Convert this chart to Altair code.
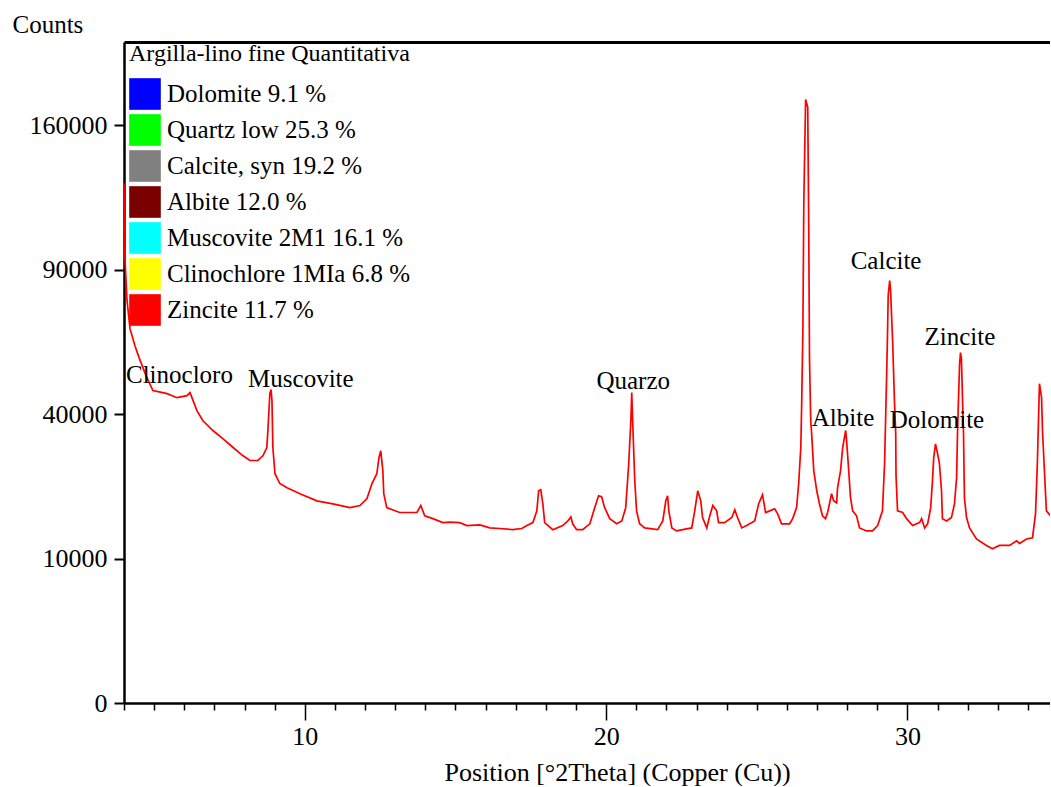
import altair as alt
import pandas as pd

# ---- data ----
two_theta = [4.00, 4.03, 4.10, 4.20, 4.36, 4.50, 4.73, 4.96, 5.13, 5.43, 5.76, 6.09, 6.19, 6.29, 6.42,
             6.62, 6.95, 7.28, 7.62, 7.95, 8.18, 8.44, 8.61, 8.74, 8.78, 8.84, 8.88, 8.91, 8.94, 9.01,
             9.17, 9.41, 9.84, 10.40, 10.93, 11.50, 11.83, 12.06, 12.23, 12.39, 12.46, 12.52, 12.59,
             12.62, 12.72, 13.15, 13.72, 13.85, 13.98, 14.25, 14.58, 14.81, 15.14, 15.38, 15.81, 16.14,
             16.47, 16.90, 17.20, 17.37, 17.57, 17.70, 17.76, 17.83, 17.90, 17.96, 18.23, 18.56, 18.73,
             18.83, 18.89, 19.02, 19.22, 19.46, 19.62, 19.75, 19.85, 19.95, 20.12, 20.35, 20.52, 20.65,
             20.75, 20.82, 20.85, 20.88, 20.95, 21.01, 21.11, 21.28, 21.71, 21.88, 21.98, 22.04, 22.08,
             22.18, 22.34, 22.54, 22.84, 22.94, 23.04, 23.14, 23.20, 23.34, 23.44, 23.54, 23.67, 23.73,
             23.93, 24.17, 24.27, 24.36, 24.50, 24.66, 24.93, 25.06, 25.19, 25.29, 25.43, 25.59, 25.69,
             25.82, 26.09, 26.19, 26.32, 26.39, 26.46, 26.49, 26.53, 26.56, 26.62, 26.69, 26.72, 26.75,
             26.79, 26.82, 26.89, 26.99, 27.08, 27.18, 27.28, 27.35, 27.48, 27.55, 27.65, 27.68, 27.78,
             27.85, 27.95, 27.98, 28.05, 28.11, 28.18, 28.31, 28.41, 28.64, 28.84, 29.01, 29.17, 29.24,
             29.31, 29.34, 29.36, 29.41, 29.44, 29.51, 29.57, 29.61, 29.62, 29.67, 29.84, 29.97, 30.17,
             30.40, 30.47, 30.57, 30.67, 30.77, 30.83, 30.87, 30.93, 31.00, 31.06, 31.13, 31.16, 31.30,
             31.46, 31.56, 31.63, 31.66, 31.69, 31.73, 31.76, 31.79, 31.83, 31.86, 31.89, 31.96, 32.06,
             32.29, 32.62, 32.82, 33.05, 33.39, 33.62, 33.72, 33.95, 34.15, 34.25, 34.31, 34.38, 34.45,
             34.48, 34.55, 34.61, 34.75, 34.90]

counts = [129500, 95200, 77700, 67200, 61300, 57200, 51400, 46800, 46500, 45900, 44700, 45300, 46200,
          43900, 41000, 38200, 35600, 33500, 31300, 29300, 28200, 28200, 29300, 31300, 36300, 45900,
          47100, 43900, 31300, 25200, 23100, 22200, 21000, 19600, 19000, 18300, 18700, 20000, 23100,
          25200, 28800, 30500, 25900, 21000, 18300, 17400, 17400, 18700, 16800, 16300, 15600, 15700,
          15600, 15100, 15200, 14700, 14600, 14400, 14600, 15100, 15600, 17700, 21600, 21800, 19000,
          15600, 14400, 15100, 15900, 16600, 15400, 14400, 14400, 15400, 18300, 20600, 20400, 18300,
          16300, 15400, 15900, 18300, 27500, 38200, 46200, 38200, 23700, 17700, 15400, 14700, 14400,
          15900, 19600, 20600, 17700, 14700, 14200, 14400, 14700, 17700, 21600, 19600, 16500, 14700,
          16800, 18700, 17700, 15600, 15600, 16500, 17900, 16500, 14700, 15100, 15900, 19000, 20800,
          17400, 17700, 18100, 17200, 15400, 15400, 16300, 18300, 23100, 31300, 43000, 67600, 120100,
          174700, 170200, 115400, 56200, 38200, 34800, 25900, 21600, 19000, 16800, 16300, 17400, 21000,
          19600, 19200, 22200, 25900, 31300, 35600, 33000, 25900, 20200, 17700, 16800, 14700, 14200,
          14200, 15100, 17700, 27500, 52000, 66500, 79600, 85600, 81600, 62000, 43300, 34800, 24800,
          17700, 17400, 16300, 15100, 15600, 16300, 14700, 15400, 18300, 23700, 28800, 32200, 29800,
          27500, 21600, 16300, 15900, 16500, 19000, 24300, 34800, 43300, 55200, 58900, 56900, 43300,
          34800, 20200, 16500, 14700, 12900, 11900, 11400, 11900, 11900, 12600, 12200, 12900, 13100,
          17200, 27500, 48900, 44700, 35600, 25200, 17700, 16800, 16000]

phase_names = ["Dolomite 9.1 %", "Quartz low 25.3 %", "Calcite, syn 19.2 %", "Albite 12.0 %",
               "Muscovite 2M1 16.1 %", "Clinochlore 1MIa 6.8 %", "Zincite 11.7 %"]
phase_colors = ["#0000FF", "#00FF00", "#808080", "#7A0000", "#00FFFF", "#FFFF00", "#FF0000"]

peak_labels = ["Clinocloro", "Muscovite", "Quarzo", "Calcite", "Zincite", "Albite", "Dolomite"]
peak_label_theta = [5.84, 9.87, 20.90, 29.29, 31.74, 27.86, 30.98]
peak_label_counts = [49200, 48000, 47400, 90500, 61600, 36900, 36300]

y_ticks = [0, 10000, 40000, 90000, 160000]
x_ticks = list(range(4, 35))

FONT = "Liberation Serif"

trace = pd.DataFrame({"theta": two_theta, "counts": counts})
labels_df = pd.DataFrame({"label": peak_labels, "theta": peak_label_theta, "counts": peak_label_counts})
phases_df = pd.DataFrame({"phase": phase_names})

xscale = alt.Scale(domain=[4, 34.73], nice=False, zero=False)
yscale = alt.Scale(type="sqrt", domain=[0, 209500], nice=False, zero=True)

line = alt.Chart(trace).mark_line(color="#FF0000", strokeWidth=1.7, clip=True).encode(
    x=alt.X("theta:Q", scale=xscale, axis=alt.Axis(
        values=x_ticks,
        labelExpr="datum.value % 10 === 0 ? datum.label : ''",
        tickSize={"condition": {"test": "datum.value % 10 === 0", "value": 17}, "value": 7},
        tickWidth=1.5, tickColor="black",
        domainColor="black", domainWidth=2.5,
        labelFont=FONT, labelFontSize=26, labelColor="black", labelPadding=3,
        labelOverlap=False, labelFlush=False, grid=False,
        title="Position [°2Theta] (Copper (Cu))",
        titleFont=FONT, titleFontSize=26, titleFontWeight="normal", titleColor="black",
        titleX=493, titleY=77, titleAlign="center", titleBaseline="alphabetic")),
    y=alt.Y("counts:Q", scale=yscale, axis=alt.Axis(
        values=y_ticks, format="d",
        tickSize=10, tickWidth=2, tickColor="black",
        domainColor="black", domainWidth=2.5,
        labelFont=FONT, labelFontSize=26, labelColor="black", labelPadding=7,
        grid=False,
        title="Counts", titleAngle=0,
        titleFont=FONT, titleFontSize=25, titleFontWeight="normal", titleColor="black",
        titleX=-112, titleY=-10, titleAlign="left", titleBaseline="alphabetic")),
)

ann = alt.Chart(labels_df).mark_text(font=FONT, fontSize=25, color="black",
                                     align="center", baseline="alphabetic").encode(
    x=alt.X("theta:Q", scale=xscale, axis=alt.Axis(
        orient="top", labels=False, ticks=False, title=None, grid=False,
        domainColor="black", domainWidth=3)),
    y=alt.Y("counts:Q", scale=yscale),
    text="label:N",
)

legend_layer = alt.Chart(phases_df).mark_square(opacity=0).encode(
    color=alt.Color("phase:N",
                    scale=alt.Scale(domain=phase_names, range=phase_colors),
                    legend=alt.Legend(
                        title="Argilla-lino fine Quantitativa",
                        orient="none", legendX=5, legendY=0, padding=0,
                        symbolType="square", symbolSize=1000, symbolStrokeWidth=0,
                        symbolOpacity=1,
                        labelFont=FONT, labelFontSize=25, labelColor="black",
                        labelOffset=6, labelLimit=0,
                        rowPadding=4,
                        titleFont=FONT, titleFontSize=24, titleFontWeight="normal",
                        titleColor="black", titlePadding=12, titleLimit=0)),
)

chart = alt.layer(line, ann, legend_layer).resolve_axis(x="independent").properties(
    width=926, height=661,
    padding={"left": 124, "top": 42, "right": 0, "bottom": 83},
    autosize=alt.AutoSizeParams(type="none"),
    background="white",
).configure_view(stroke=None)

chart.save("out.html", embed_options={"renderer": "svg", "actions": False})
